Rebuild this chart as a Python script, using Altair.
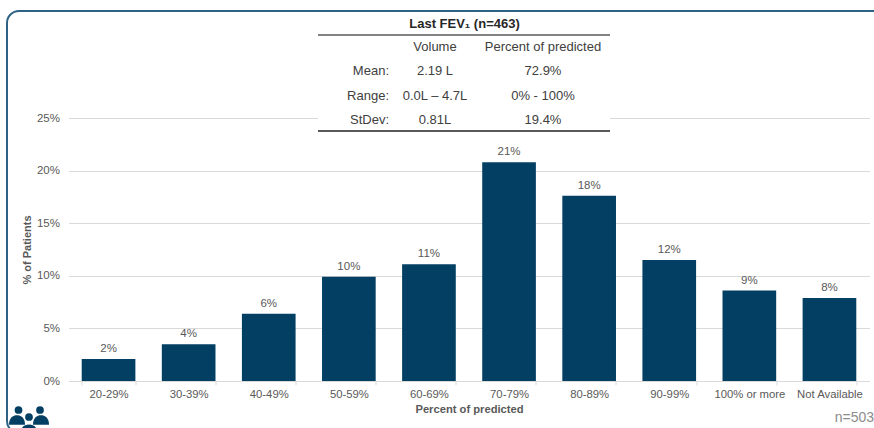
import altair as alt
import pandas as pd

# FEV1 distribution
categories = ["20-29%", "30-39%", "40-49%", "50-59%", "60-69%", "70-79%",
              "80-89%", "90-99%", "100% or more", "Not Available"]
patients_pct = [2.1, 3.5, 6.4, 9.9, 11.1, 20.8, 17.6, 11.5, 8.6, 7.9]

# Summary table contents
table_title = "Last FEV\u2081 (n=463)"
table_headers = ["Volume", "Percent of predicted"]
row_names = ["Mean:", "Range:", "StDev:"]
volume_cells = ["2.19 L", "0.0L \u2013 4.7L", "0.81L"]
percent_cells = ["72.9%", "0% - 100%", "19.4%"]

NAVY = "#033f63"
FONT = "Liberation Sans"
TEXT = "#595959"
TABLE_TEXT = "#404040"
GRID = "#d9d9d9"

# Plot-area origin on the page
LEFT, TOP = 68.5, 118
W, H = 801, 263


def px(v):
    return alt.value(v - LEFT)


def py(v):
    return alt.value(v - TOP)


df = pd.DataFrame({"band": categories, "pct": patients_pct})
x_enc = alt.X(
    "band:N", sort=categories, title="Percent of predicted",
    scale=alt.Scale(paddingInner=0.33, paddingOuter=0.165),
    axis=alt.Axis(
        labelAngle=0, labelFont=FONT, labelFontSize=11.3, labelColor=TEXT,
        labelPadding=3, titleFont=FONT, titleFontSize=11.2, titleFontWeight="bold",
        titleColor=TEXT, titlePadding=4, domainColor=GRID, tickColor=GRID,
        tickSize=4, tickBand="extent", grid=False, labelOverlap=False,
    ),
)
y_enc = alt.Y(
    "pct:Q", title="% of Patients",
    scale=alt.Scale(domain=[0, 25], nice=False),
    axis=alt.Axis(
        values=[0, 5, 10, 15, 20, 25], labelExpr="datum.value + '%'",
        labelFont=FONT, labelFontSize=11.5, labelColor=TEXT, labelPadding=9,
        titleFont=FONT, titleFontSize=11, titleFontWeight="bold", titleColor=TEXT,
        titlePadding=4, domain=False, ticks=False, grid=True, gridColor=GRID,
    ),
)

bars = alt.Chart(df).mark_bar(color=NAVY).encode(x=x_enc, y=y_enc)
labels = (
    alt.Chart(df)
    .transform_calculate(txt="format(datum.pct, '.0f') + '%'")
    .mark_text(font=FONT, fontSize=11.5, color=TEXT, baseline="bottom", dy=-5)
    .encode(x=alt.X("band:N", sort=categories), y=alt.Y("pct:Q"), text="txt:N")
)

anchor = pd.DataFrame({"k": [0]})


def note(text, x, y, align="center", size=13, color=TABLE_TEXT, weight="normal"):
    return (
        alt.Chart(anchor)
        .mark_text(font=FONT, fontSize=size, color=color, align=align,
                   baseline="middle", fontWeight=weight, text=text)
        .encode(x=px(x), y=py(y))
    )


def hline(x1, x2, y, width, color="#595959"):
    return (
        alt.Chart(anchor)
        .mark_rule(color=color, strokeWidth=width)
        .encode(x=px(x1), x2=px(x2), y=py(y))
    )


# White panel that interrupts the gridlines behind the table
table_bg = (
    alt.Chart(anchor)
    .mark_rect(fill="white")
    .encode(x=px(318), x2=px(610), y=py(13), y2=py(131))
)

table = [
    table_bg,
    note(table_title, 464.5, 24, weight="bold", color="#262626"),
    hline(318, 610, 35, 1.5),
    hline(318, 610, 131, 2),
    note(table_headers[0], 435, 47),
    note(table_headers[1], 543, 47),
]
for name, vol, pc, y in zip(row_names, volume_cells, percent_cells, [71, 96, 120]):
    table += [note(name, 389, y, align="right"), note(vol, 435, y), note(pc, 543, y)]

# Rounded frame running off the top-right and bottom of the page
frame = (
    alt.Chart(anchor)
    .mark_rect(fill="transparent", stroke="#2f6385", strokeWidth=2, cornerRadius=12)
    .encode(x=px(7), x2=px(930), y=py(11), y2=py(433))
)

# People icon in the lower-left corner
SHOULDER = "M-1,0.6 C-1,-0.3 -0.5,-0.6 0,-0.6 C0.5,-0.6 1,-0.3 1,0.6 Z"


def head(x, y):
    return alt.Chart(anchor).mark_circle(color=NAVY, opacity=1, size=60).encode(x=px(x), y=py(y))


def shoulders(x, y, size):
    return (
        alt.Chart(anchor)
        .mark_point(shape=SHOULDER, filled=True, fill=NAVY, opacity=1, strokeWidth=0, size=size)
        .encode(x=px(x), y=py(y))
    )


icon = [
    shoulders(17, 420, 256), shoulders(41, 420, 256),
    head(18.5, 410), head(40, 410), head(29, 417),
    shoulders(29, 430, 324),
]

n_note = note("n=503", 874, 418, align="right", size=14, color="#8c8c8c")

chart = alt.layer(
    bars, labels, *table, frame, *icon, n_note
).resolve_scale(x="shared", y="shared").properties(
    width=W, height=H,
    autosize=alt.AutoSizeParams(type="none"),
    padding={"left": LEFT, "top": TOP, "right": 4.5, "bottom": 47},
    background="white",
).configure_view(stroke=None)

chart.save("out.html", embed_options={"renderer": "svg", "actions": False})
